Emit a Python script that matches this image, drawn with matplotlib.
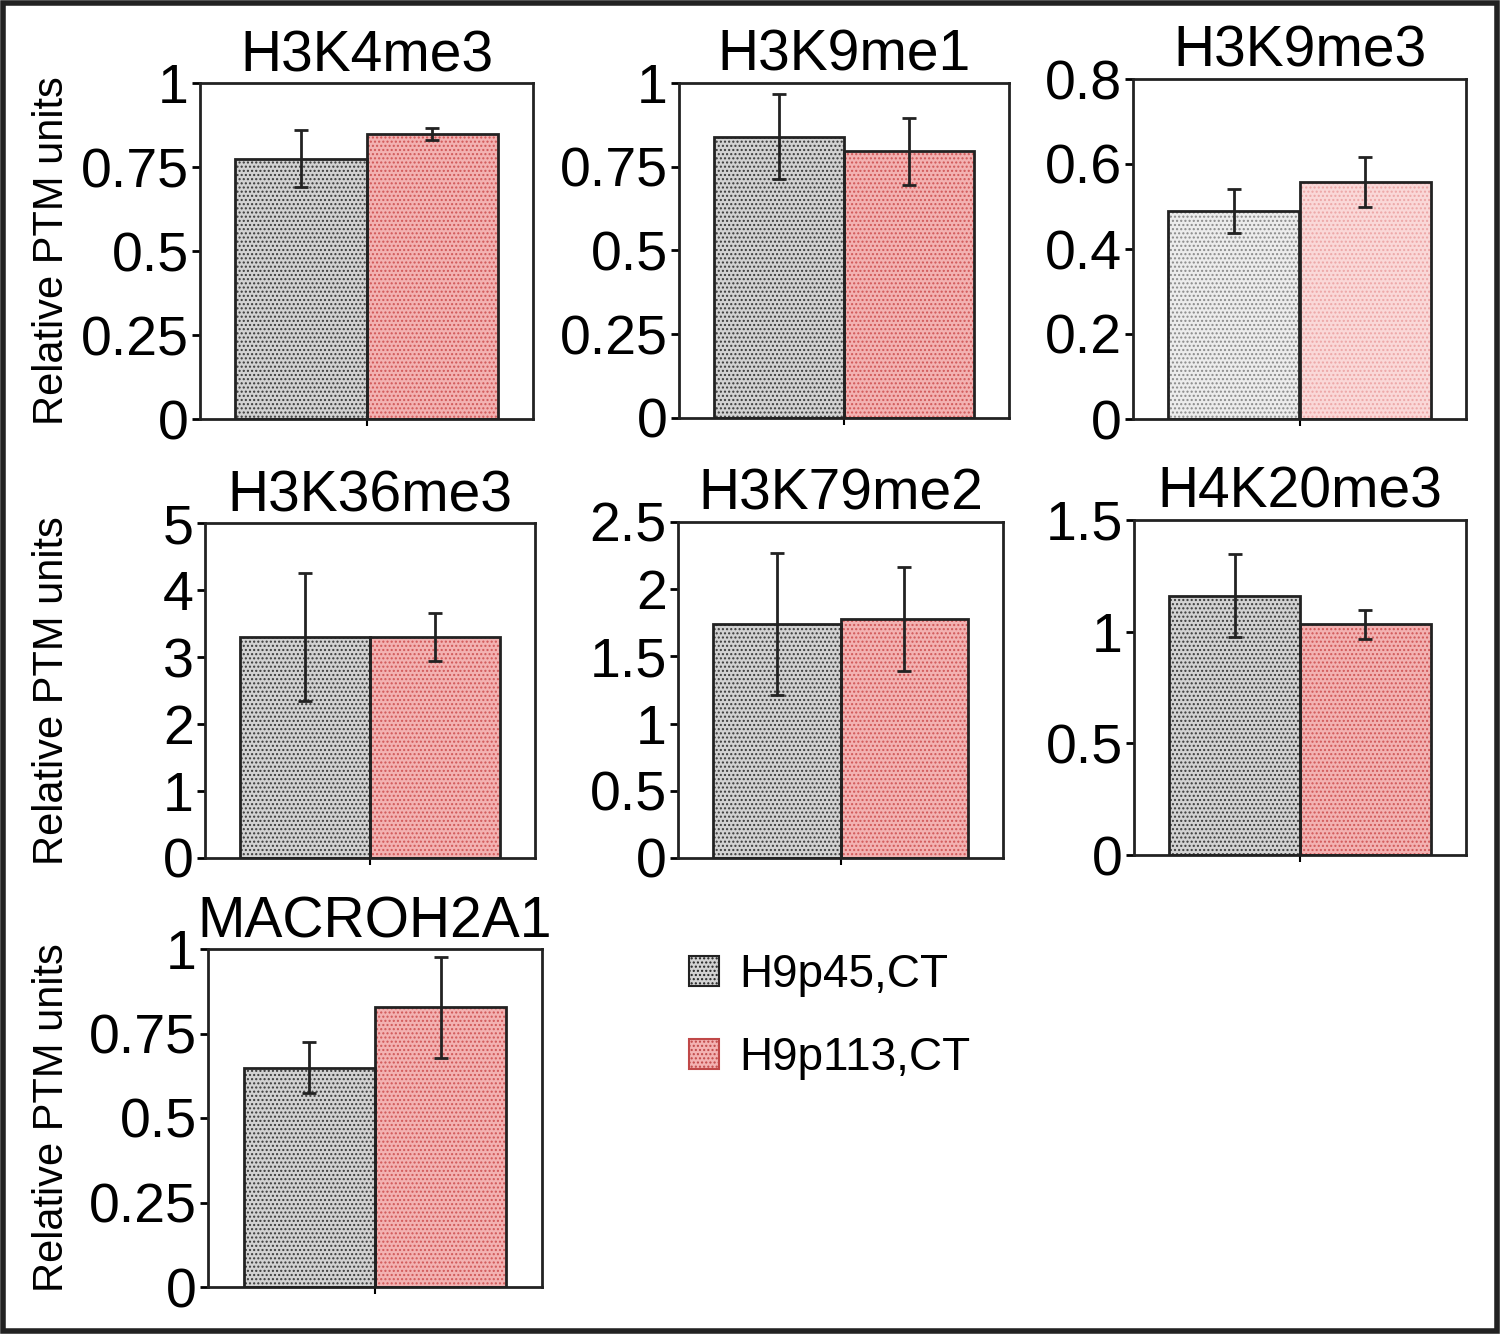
import matplotlib.pyplot as plt
from matplotlib.patches import Patch, Rectangle

plt.rcParams['font.family'] = ['Liberation Sans', 'DejaVu Sans']

titles = ["H3K4me3", "H3K9me1", "H3K9me3", "H3K36me3", "H3K79me2", "H4K20me3", "MACROH2A1"]
groups = ["H9p45,CT", "H9p113,CT"]

p45_vals = [0.775, 0.839, 0.489, 3.30, 1.741, 1.160, 0.649]
p45_err = [0.086, 0.127, 0.051, 0.96, 0.525, 0.186, 0.075]
p113_vals = [0.848, 0.797, 0.558, 3.30, 1.778, 1.034, 0.827]
p113_err = [0.018, 0.100, 0.058, 0.36, 0.390, 0.065, 0.150]

ytop = [1, 1, 0.8, 5, 2.5, 1.5, 1]
yticks = [
    [0, 0.25, 0.5, 0.75, 1],
    [0, 0.25, 0.5, 0.75, 1],
    [0, 0.2, 0.4, 0.6, 0.8],
    [0, 1, 2, 3, 4, 5],
    [0, 0.5, 1, 1.5, 2, 2.5],
    [0, 0.5, 1, 1.5],
    [0, 0.25, 0.5, 0.75, 1],
]
yticklabels = [
    ["0", "0.25", "0.5", "0.75", "1"],
    ["0", "0.25", "0.5", "0.75", "1"],
    ["0", "0.2", "0.4", "0.6", "0.8"],
    ["0", "1", "2", "3", "4", "5"],
    ["0", "0.5", "1", "1.5", "2", "2.5"],
    ["0", "0.5", "1", "1.5"],
    ["0", "0.25", "0.5", "0.75", "1"],
]

W, H = 1500, 1334
# axes boxes in pixels: left, right, top, bottom
boxes = [
    (200, 533, 83, 419),
    (679, 1009, 83, 418),
    (1133, 1466, 79, 419),
    (205, 535, 523, 858),
    (678, 1003, 522, 858),
    (1134, 1466, 520, 855),
    (208, 542, 949, 1287),
]

grey_face, grey_dot = "#d2d2d2", "#3a3a3a"
pink_face, pink_dot = "#f3b2b2", "#d05858"
light = {2: ("#ececec", "#8a8a8a", "#fad8d8", "#eca6a6")}

fig = plt.figure(figsize=(15, 13.34), dpi=100)

for i, (l, r, t, b) in enumerate(boxes):
    ax = fig.add_axes([l / W, 1 - b / H, (r - l) / W, (b - t) / H])
    gf, gd, pf, pd = light.get(i, (grey_face, grey_dot, pink_face, pink_dot))
    ax.bar(0, p45_vals[i], width=1, color=gf, edgecolor=gd, hatch="....", linewidth=0)
    ax.bar(1, p113_vals[i], width=1, color=pf, edgecolor=pd, hatch="....", linewidth=0)
    ax.bar([0, 1], [p45_vals[i], p113_vals[i]], width=1, fill=False,
           edgecolor="#222222", linewidth=2)
    ax.errorbar([0, 1], [p45_vals[i], p113_vals[i]], yerr=[p45_err[i], p113_err[i]],
                fmt="none", ecolor="#222222", elinewidth=2, capsize=5, capthick=2)
    ax.set_xlim(-0.77, 1.77)
    ax.set_ylim(0, ytop[i])
    ax.set_yticks(yticks[i])
    ax.set_yticklabels(yticklabels[i])
    ax.set_xticks([0.5])
    ax.set_xticklabels([])
    ax.tick_params(axis="y", labelsize=40, width=2, length=6, pad=2)
    ax.tick_params(axis="x", width=1.5, length=5)
    for s in ax.spines.values():
        s.set_linewidth(2)
        s.set_color("#222222")
    ax.set_title(titles[i], fontsize=41, pad=5)
    if l < 300:
        fig.text(52 / W, 1 - ((t + b) / 2) / H, "Relative PTM units", rotation=90,
                 ha="center", va="center", fontsize=30)

handles = [
    Patch(facecolor=grey_face, edgecolor="#222222", hatch="....", linewidth=1.5),
    Patch(facecolor=pink_face, edgecolor="#c04848", hatch="....", linewidth=1.5),
]
fig.legend(handles, groups, loc="upper left", bbox_to_anchor=(648 / W, 1 - 912 / H),
           frameon=False, fontsize=33, handlelength=0.65, handleheight=0.65,
           handletextpad=0.45, labelspacing=0.85)

fig.patches.append(Rectangle((0.002, 0.002), 0.996, 0.996, transform=fig.transFigure,
                             fill=False, edgecolor="#222222", linewidth=4))

fig.savefig("out.png", dpi=100)
